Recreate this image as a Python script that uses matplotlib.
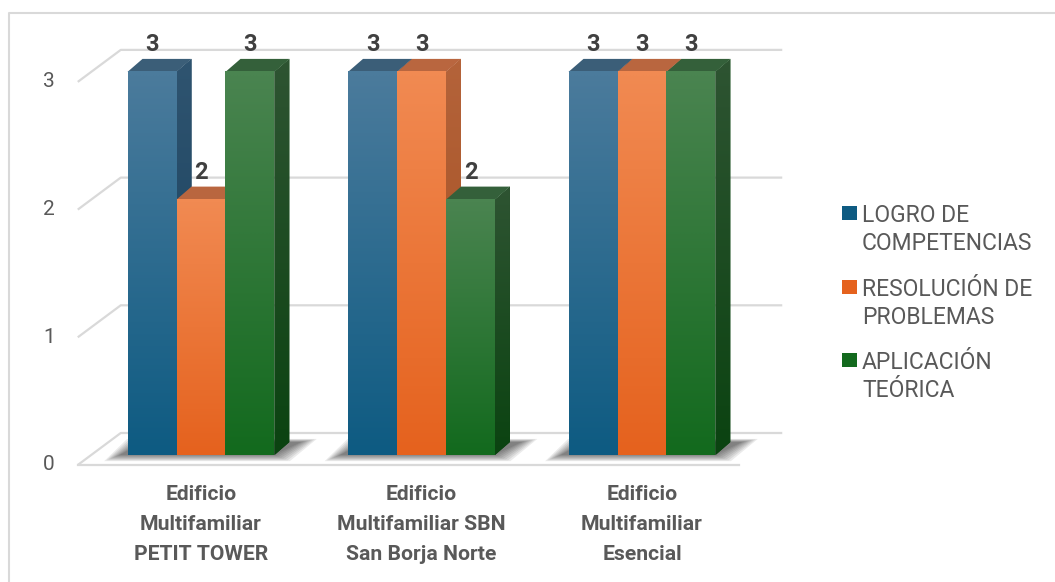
import numpy as np
import matplotlib
matplotlib.use("Agg")
import matplotlib.pyplot as plt
from matplotlib.patches import Polygon, Rectangle
from matplotlib.colors import LinearSegmentedColormap

plt.rcParams['font.family'] = ['Roboto', 'DejaVu Sans']

# data
categories = ["Edificio\nMultifamiliar\nPETIT TOWER",
              "Edificio\nMultifamiliar SBN\nSan Borja Norte",
              "Edificio\nMultifamiliar\nEsencial"]
series_names = ["LOGRO DE\nCOMPETENCIAS", "RESOLUCIÓN DE\nPROBLEMAS", "APLICACIÓN\nTEÓRICA"]
logro = [3, 3, 3]
resolucion = [2, 3, 3]
aplicacion = [3, 2, 3]
yticks = [0, 1, 2, 3]

# front top, front bottom, side top, side bottom, top face
palette = [
    ("#4B7B9C", "#0E5B82", "#2F5470", "#143D5A", "#3B5E78"),
    ("#F18A52", "#E5621E", "#B4633A", "#A24C1C", "#B9663F"),
    ("#4A8450", "#136A1E", "#2E5432", "#0B4311", "#34603A"),
]

W, H = 1055, 582
fig = plt.figure(figsize=(W / 100, H / 100), dpi=100)
ax = fig.add_axes([0, 0, 1, 1])
ax.axis("off")

# pixel sizes -> data units
UX = 220.5   # px per category
UY = 127.7   # px per value unit
px = lambda p: p / UX
py = lambda p: p / UY

bar_w = 0.2222
bdx, bdy = px(15), py(13)      # bar depth
wdx, wdy = px(30), py(22)      # back wall offset
fdx, fdy = px(-13), py(-10)    # front floor edge offset
x_lo, x_hi = -0.5, 2.5

grid_c = "#D9D9D9"
# floor and gridlines
for v in yticks:
    ax.plot([x_lo + fdx, x_lo + wdx, x_hi + wdx], [v + fdy, v + wdy, v + wdy],
            color=grid_c, lw=1.6, zorder=1, solid_capstyle="butt")
    ax.text(x_lo + fdx - px(29), v + fdy, str(v), ha="center", va="center",
            fontsize=15, color="#595959")
ax.plot([x_lo + fdx, x_hi + fdx], [fdy, fdy], color=grid_c, lw=1.6, zorder=1)


def grad(ax, extent, c_top, c_bot, z, clip=None):
    cmap = LinearSegmentedColormap.from_list("g", [c_bot, c_top])
    img = ax.imshow(np.linspace(0, 1, 64).reshape(-1, 1), cmap=cmap, origin="lower",
                    extent=extent, aspect="auto", zorder=z, interpolation="bilinear")
    if clip is not None:
        img.set_clip_path(clip)
    return img


values = [logro, resolucion, aplicacion]
x = np.arange(len(categories))
offsets = [-bar_w, 0, bar_w]

# soft shadow under each group
for i in x:
    gx0 = i - 1.5 * bar_w
    gx1 = i + 1.5 * bar_w
    for k in range(8):
        e = k * 2.2
        pts = [(gx0 - px(8) - px(e), -py(e) * 0.4), (gx1 + px(e), -py(e) * 0.4),
               (gx1 + bdx + px(12) + px(e), bdy + py(e) * 0.2),
               (gx0 + bdx - px(e), bdy + py(e) * 0.2)]
        ax.add_patch(Polygon(pts, closed=True, fc="black", ec="none", alpha=0.08, zorder=2))

z = 3
for i in x:
    for s, vals in enumerate(values):
        v = vals[i]
        xc = i + offsets[s]
        x0, x1 = xc - bar_w / 2, xc + bar_w / 2
        ft, fb, st, sb, tc = palette[s]
        # side face
        side = Polygon([(x1, 0), (x1 + bdx, bdy), (x1 + bdx, v + bdy), (x1, v)],
                       closed=True, fc=sb, ec="none", zorder=z)
        ax.add_patch(side)
        grad(ax, [x1, x1 + bdx, 0, v + bdy], st, sb, z + 0.1, clip=side)
        # top face
        ax.add_patch(Polygon([(x0, v), (x1, v), (x1 + bdx, v + bdy), (x0 + bdx, v + bdy)],
                             closed=True, fc=tc, ec="none", zorder=z + 0.2))
        # front face
        ax.bar(xc, v, width=bar_w, color=fb, zorder=z + 0.3, linewidth=0)
        grad(ax, [x0, x1, 0, v], ft, fb, z + 0.4)
        # value label
        ax.text(xc, v + py(27), str(v), ha="center", va="center", fontsize=17,
                fontweight="bold", color="#404040", zorder=20)
        z += 1

# category labels, one line at a time
line_off = [-38, -68, -97]
for i, lab in enumerate(categories):
    for k, part in enumerate(lab.split("\n")):
        ax.text(i, py(line_off[k]), part, ha="center", va="center_baseline",
                fontsize=15.2, fontweight="bold", color="#595959")

ax.set_xlim(-201 / UX, (W - 201) / UX)
ax.set_ylim(-(H - 455) / UY, 455 / UY)

# legend (manual, figure pixels)
def fp(xp, yp):
    return xp / W, 1 - yp / H

leg_y = [213, 287, 360]
for s, name in enumerate(series_names):
    fb = palette[s][1]
    lx, ly = fp(842, leg_y[s] + 7)
    fig.patches.append(Rectangle((lx, ly), 15 / W, 14 / H, transform=fig.transFigure,
                                 fc=fb, ec="none"))
    for k, part in enumerate(name.split("\n")):
        tx, ty = fp(862, leg_y[s] + 28 * k)
        fig.text(tx, ty, part, ha="left", va="center_baseline",
                 fontsize=16.5, color="#595959")

# outer chart border (top and left visible)
fig.add_artist(plt.Line2D([9 / W, 9 / W, 1], [0, 1 - 13 / H, 1 - 13 / H],
                          transform=fig.transFigure, color="#D9D9D9", lw=1.5))

fig.savefig("out.png", dpi=100)
